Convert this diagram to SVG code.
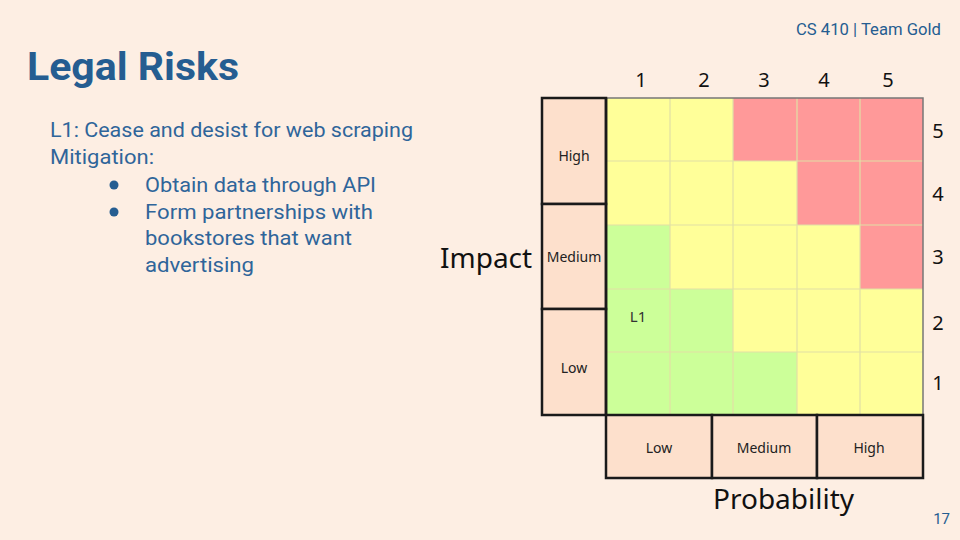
<svg xmlns="http://www.w3.org/2000/svg" width="960" height="540" viewBox="0 0 960 540">
  <style>
    .blue { fill: #255d91; font-family: "Roboto", "Liberation Sans", sans-serif; }
    .body { font-size: 20px; fill: #2f659a; }
    .ax { fill: #111; font-family: "Noto Sans", "DejaVu Sans", sans-serif; }
    .num { font-size: 20px; text-anchor: middle; }
    .lab { font-size: 14px; text-anchor: middle; fill: #222; font-family: "Noto Sans", "DejaVu Sans", sans-serif; }
    .y { fill: #ffff99; }
    .r { fill: #ff9999; }
    .g { fill: #ccff99; }
    .box { fill: #fde0cc; stroke: #1a1a1a; stroke-width: 2.5; }
    .gl { stroke: #e2e0a6; stroke-width: 1.2; fill: none; }
  </style>
  <rect width="960" height="540" fill="#fdeee3"/>

  <!-- slide header -->
  <text class="blue" x="941" y="35" font-size="17" text-anchor="end" textLength="145" lengthAdjust="spacingAndGlyphs">CS 410 | Team Gold</text>
  <text class="blue" x="27" y="80" font-size="38" font-weight="bold" textLength="212" lengthAdjust="spacingAndGlyphs">Legal Risks</text>

  <!-- risk description -->
  <g id="description">
    <text class="blue body" x="50" y="137" textLength="363" lengthAdjust="spacingAndGlyphs">L1: Cease and desist for web scraping</text>
    <text class="blue body" x="50" y="164" textLength="104" lengthAdjust="spacingAndGlyphs">Mitigation:</text>
    <circle cx="114" cy="185" r="4.5" fill="#255d91"/>
    <text class="blue body" x="145" y="192" textLength="231" lengthAdjust="spacingAndGlyphs">Obtain data through API</text>
    <circle cx="114" cy="212" r="4.5" fill="#255d91"/>
    <text class="blue body" x="145" y="219" textLength="228" lengthAdjust="spacingAndGlyphs">Form partnerships with</text>
    <text class="blue body" x="145" y="245" textLength="207" lengthAdjust="spacingAndGlyphs">bookstores that want</text>
    <text class="blue body" x="145" y="272" textLength="109" lengthAdjust="spacingAndGlyphs">advertising</text>
  </g>

  <!-- risk matrix cells (columns = probability 1..5, rows = impact 5..1) -->
  <g id="matrix">
    <rect class="y" x="606" y="98" width="64" height="64"/>
    <rect class="y" x="670" y="98" width="64" height="64"/>
    <rect class="r" x="733" y="98" width="64" height="64"/>
    <rect class="r" x="797" y="98" width="64" height="64"/>
    <rect class="r" x="860" y="98" width="63" height="64"/>

    <rect class="y" x="606" y="161" width="64" height="64"/>
    <rect class="y" x="670" y="161" width="64" height="64"/>
    <rect class="y" x="733" y="161" width="64" height="64"/>
    <rect class="r" x="797" y="161" width="64" height="64"/>
    <rect class="r" x="860" y="161" width="63" height="64"/>

    <rect class="g" x="606" y="225" width="64" height="64"/>
    <rect class="y" x="670" y="225" width="64" height="64"/>
    <rect class="y" x="733" y="225" width="64" height="64"/>
    <rect class="y" x="797" y="225" width="64" height="64"/>
    <rect class="r" x="860" y="225" width="63" height="64"/>

    <rect class="g" x="606" y="289" width="64" height="64"/>
    <rect class="g" x="670" y="289" width="64" height="64"/>
    <rect class="y" x="733" y="289" width="64" height="64"/>
    <rect class="y" x="797" y="289" width="64" height="64"/>
    <rect class="y" x="860" y="289" width="63" height="64"/>

    <rect class="g" x="606" y="352" width="64" height="63"/>
    <rect class="g" x="670" y="352" width="64" height="63"/>
    <rect class="g" x="733" y="352" width="64" height="63"/>
    <rect class="y" x="797" y="352" width="64" height="63"/>
    <rect class="y" x="860" y="352" width="63" height="63"/>

    <path class="gl" d="M670 98V415M733 98V415M797 98V415M860 98V415M606 161H923M606 225H923M606 289H923M606 352H923"/>
    <path d="M606 98H923V415" fill="none" stroke="#777" stroke-width="1.5"/>
    <text x="638" y="322" font-size="15" text-anchor="middle" fill="#333" font-family="Noto Sans, DejaVu Sans, sans-serif">L1</text>
  </g>

  <!-- impact scale -->
  <g id="impact-axis">
    <rect class="box" x="542" y="98" width="64" height="106"/>
    <rect class="box" x="542" y="204" width="64" height="105"/>
    <rect class="box" x="542" y="309" width="64" height="106"/>
    <text class="lab" x="574" y="161">High</text>
    <text class="lab" x="574" y="262">Medium</text>
    <text class="lab" x="574" y="373">Low</text>
    <text class="ax" x="440" y="268" font-size="28">Impact</text>
    <text class="ax num" x="938" y="138">5</text>
    <text class="ax num" x="938" y="201">4</text>
    <text class="ax num" x="938" y="264">3</text>
    <text class="ax num" x="938" y="330">2</text>
    <text class="ax num" x="938" y="390">1</text>
  </g>

  <!-- probability scale -->
  <g id="probability-axis">
    <rect class="box" x="606" y="415" width="106" height="63"/>
    <rect class="box" x="712" y="415" width="105" height="63"/>
    <rect class="box" x="817" y="415" width="106" height="63"/>
    <line x1="606" y1="98" x2="606" y2="415" stroke="#1a1a1a" stroke-width="2.5"/>
    <text class="lab" x="659" y="453">Low</text>
    <text class="lab" x="764" y="453">Medium</text>
    <text class="lab" x="869" y="453">High</text>
    <text class="ax" x="713" y="509" font-size="28">Probability</text>
    <text class="ax num" x="641" y="87">1</text>
    <text class="ax num" x="704" y="87">2</text>
    <text class="ax num" x="764" y="87">3</text>
    <text class="ax num" x="824" y="87">4</text>
    <text class="ax num" x="888" y="87">5</text>
  </g>

  <text class="blue" x="950" y="524" font-size="15" text-anchor="end">17</text>
</svg>
